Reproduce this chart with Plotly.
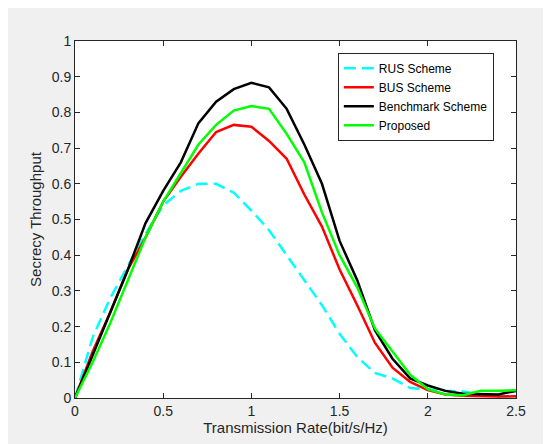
import plotly.graph_objects as go

# transmission rate (bit/s/Hz)
rate = [0.0, 0.1, 0.2, 0.3, 0.4, 0.5, 0.6, 0.7, 0.8, 0.9, 1.0, 1.1, 1.2,
        1.3, 1.4, 1.5, 1.6, 1.7, 1.8, 1.9, 2.0, 2.1, 2.2, 2.3, 2.4, 2.5]

rus = [0.0, 0.17, 0.28, 0.37, 0.46, 0.54, 0.58, 0.60, 0.60, 0.575, 0.525, 0.47, 0.40,
       0.33, 0.26, 0.18, 0.115, 0.07, 0.055, 0.028, 0.023, 0.02, 0.018, 0.01, 0.005, 0.0]
bus = [0.0, 0.13, 0.24, 0.36, 0.45, 0.55, 0.62, 0.685, 0.745, 0.765, 0.76, 0.72, 0.67,
       0.57, 0.48, 0.36, 0.26, 0.155, 0.085, 0.045, 0.022, 0.01, 0.006, 0.004, 0.004, 0.005]
bench = [0.0, 0.12, 0.24, 0.36, 0.49, 0.58, 0.66, 0.77, 0.83, 0.865, 0.883, 0.87, 0.81,
         0.71, 0.60, 0.44, 0.33, 0.19, 0.11, 0.055, 0.035, 0.02, 0.012, 0.01, 0.01, 0.02]
proposed = [0.0, 0.10, 0.21, 0.33, 0.45, 0.55, 0.63, 0.71, 0.765, 0.805, 0.818, 0.81, 0.74,
            0.66, 0.52, 0.40, 0.31, 0.195, 0.13, 0.065, 0.025, 0.01, 0.008, 0.02, 0.02, 0.022]

series = [
    ('RUS Scheme', rus, '#00ffff', '12px,6px'),
    ('BUS Scheme', bus, '#ff0000', 'solid'),
    ('Benchmark Scheme', bench, '#000000', 'solid'),
    ('Proposed', proposed, '#00ff00', 'solid'),
]

fig = go.Figure()
for name, vals, color, dash in series:
    fig.add_trace(go.Scatter(x=rate, y=vals, mode='lines', name=name,
                             line=dict(color=color, width=2.5, dash=dash)))

axis_style = dict(showline=True, linecolor='#262626', linewidth=1, mirror='ticks',
                  ticks='inside', ticklen=5, tickcolor='#262626', showgrid=False,
                  zeroline=False, tickfont=dict(size=14, color='#262626'))

fig.update_xaxes(range=[0, 2.5], tickvals=[0, 0.5, 1, 1.5, 2, 2.5],
                 ticktext=['0', '0.5', '1', '1.5', '2', '2.5'],
                 title=dict(text='Transmission Rate(bit/s/Hz)', standoff=3,
                            font=dict(size=15, color='#262626')),
                 **axis_style)
fig.update_yaxes(range=[0, 1], dtick=0.1,
                 title=dict(text='Secrecy Throughput', standoff=6,
                            font=dict(size=15, color='#262626')),
                 **axis_style)

fig.update_layout(
    width=543, height=436,
    margin=dict(l=67, r=35, t=33, b=44),
    paper_bgcolor='#f0f0f0', plot_bgcolor='white',
    font=dict(family='Arial, Liberation Sans, sans-serif', color='#262626'),
    legend=dict(x=0.596, y=0.967, xanchor='left', yanchor='top',
                bgcolor='white', bordercolor='#262626', borderwidth=1,
                font=dict(size=12, color='#000000'), tracegroupgap=0),
    showlegend=True,
)

fig.write_html('out.html')
